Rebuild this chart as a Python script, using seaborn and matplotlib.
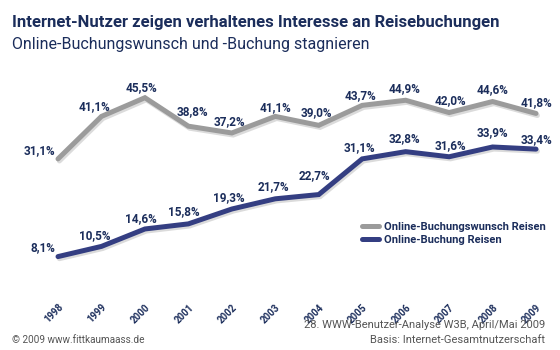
import pandas as pd
import matplotlib
matplotlib.use('Agg')
import matplotlib.pyplot as plt
import matplotlib.patheffects as pe
import seaborn as sns

# Data
years = [1998, 1999, 2000, 2001, 2002, 2003, 2004, 2005, 2006, 2007, 2008, 2009]
wunsch = [31.1, 41.1, 45.5, 38.8, 37.2, 41.1, 39.0, 43.7, 44.9, 42.0, 44.6, 41.8]
buchung = [8.1, 10.5, 14.6, 15.8, 19.3, 21.7, 22.7, 31.1, 32.8, 31.6, 33.9, 33.4]
series_names = ['Online-Buchungswunsch Reisen', 'Online-Buchung Reisen']

# label nudges in pixels (dx, dy up) so the labels sit clear of the lines
wunsch_nudge = [(-19, 8), (-7, 10), (-3, 10), (4, 15), (-2, 11), (0, 9),
                (-2, 13), (-2, 10), (-1, 12), (1, 12), (0, 12), (0, 11)]
buchung_nudge = [(-15, 9), (-7, 11), (-4, 10), (-5, 12), (-3, 11), (-2, 12),
                 (-4, 19), (-3, 11), (-1, 13), (1, 11), (0, 14), (0, 10)]

df = pd.DataFrame({'Jahr': years * 2,
                   'Anteil': wunsch + buchung,
                   'Reihe': [series_names[0]] * len(years) + [series_names[1]] * len(years)})

sns.set_style('white')
plt.rcParams['font.family'] = ['Roboto', 'DejaVu Sans']

navy = '#1b2d5b'
gray = '#9b9b9b'
blue = '#343e82'

fig = plt.figure(figsize=(5.6, 3.5), dpi=100)
fig.patch.set_facecolor('white')
ax = fig.add_axes([0, 59 / 350, 1, 291 / 350])

# soft drop shadow under the lines
shadow = [pe.SimpleLineShadow(offset=(1, -1.5), shadow_color='#999999', alpha=0.35), pe.Normal()]
sns.lineplot(data=df, x='Jahr', y='Anteil', hue='Reihe', palette=[gray, blue],
             linewidth=3.6, ax=ax, legend=True)
for line in ax.lines:
    line.set_path_effects(shadow)
    line.set_solid_joinstyle('miter')

ax.set_xlim(1996.665, 2009.552)
ax.set_ylim(0, 68.5)
ax.set_facecolor('none')
for s in ax.spines.values():
    s.set_visible(False)
ax.set_yticks([])
ax.set_xticks(years)
ax.set_xticklabels([str(y) for y in years], rotation=45, ha='right', rotation_mode='anchor',
                   fontsize=7, fontweight='bold', color=navy)
ax.tick_params(axis='x', length=0, pad=8)
ax.set_xlabel('')
ax.set_ylabel('')

def fmt(v):
    return f'{v:.1f}%'.replace('.', ',')

px = 0.72  # points per pixel at 100 dpi
for vals, nudge in ((wunsch, wunsch_nudge), (buchung, buchung_nudge)):
    for yr, v, (dx, dy) in zip(years, vals, nudge):
        ax.annotate(fmt(v), (yr, v), xytext=(dx * px, dy * px), textcoords='offset points',
                    ha='center', va='center', fontsize=8.5, fontweight='bold', color=navy)

leg = ax.legend(loc='upper left', bbox_to_anchor=(352 / 560, 1 - 212 / 350), bbox_transform=fig.transFigure,
                frameon=False, handlelength=1.5, handletextpad=0.5, labelspacing=0.3,
                prop={'size': 8, 'weight': 'bold'})
for t in leg.get_texts():
    t.set_color(navy)
for h in leg.get_lines():
    h.set_linewidth(3.6)
    h.set_path_effects([])

fig.text(12 / 560, 1 - 22 / 350, 'Internet-Nutzer zeigen verhaltenes Interesse an Reisebuchungen',
         fontsize=12, fontweight='bold', color=navy, va='center', ha='left')
fig.text(12 / 560, 1 - 45 / 350, 'Online-Buchungswunsch und -Buchung stagnieren',
         fontsize=11.5, color=navy, va='center', ha='left')

fig.text(12 / 560, 1 - 340 / 350, '\u00a9 2009 www.fittkaumaass.de', fontsize=7.2, color='#555555',
         va='center', ha='left')
fig.text(545 / 560, 1 - 325 / 350, '28. WWW-Benutzer-Analyse W3B, April/Mai 2009', fontsize=8,
         color='#555555', va='center', ha='right')
fig.text(545 / 560, 1 - 340 / 350, 'Basis: Internet-Gesamtnutzerschaft', fontsize=8,
         color='#555555', va='center', ha='right')

fig.savefig('out.png', dpi=100)
